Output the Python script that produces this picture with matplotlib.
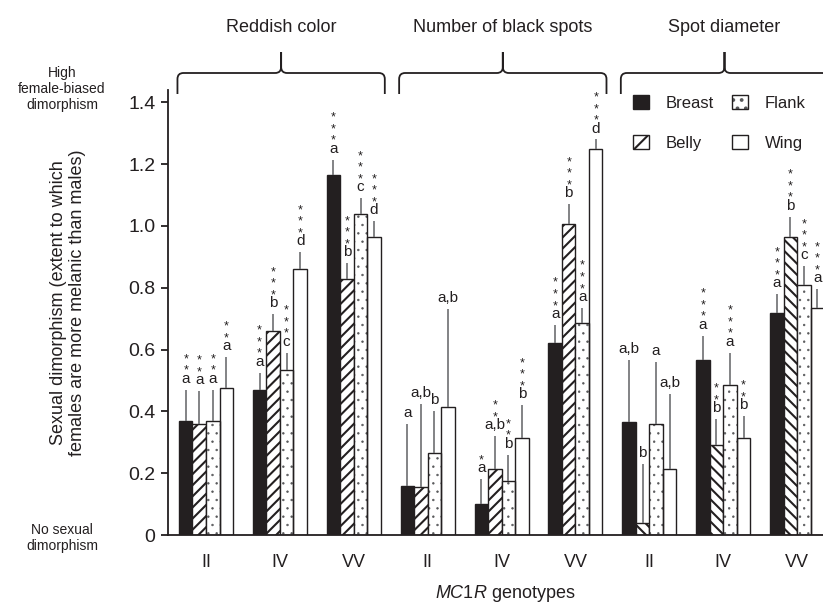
import numpy as np
import matplotlib
matplotlib.use("Agg")
import matplotlib.pyplot as plt
from matplotlib.path import Path
from matplotlib.patches import PathPatch, Patch
from matplotlib.transforms import blended_transform_factory

plt.rcParams["font.family"] = ["Liberation Sans", "DejaVu Sans"]
plt.rcParams["mathtext.fontset"] = "custom"
plt.rcParams["mathtext.it"] = "Liberation Sans:italic"
plt.rcParams["mathtext.rm"] = "Liberation Sans"
plt.rcParams["hatch.linewidth"] = 1.5

# data
traits = ["Reddish color", "Number of black spots", "Spot diameter"]
genotypes = ["II", "IV", "VV"]
regions = ["Breast", "Belly", "Flank", "Wing"]

breast = [0.37, 0.47, 1.165, 0.16, 0.10, 0.62, 0.365, 0.565, 0.72]
belly = [0.36, 0.66, 0.83, 0.155, 0.215, 1.005, 0.04, 0.29, 0.965]
flank = [0.37, 0.535, 1.04, 0.265, 0.175, 0.685, 0.36, 0.485, 0.81]
wing = [0.475, 0.86, 0.965, 0.415, 0.315, 1.25, 0.215, 0.315, 0.735]

breast_se = [0.10, 0.055, 0.05, 0.20, 0.08, 0.06, 0.20, 0.08, 0.06]
belly_se = [0.105, 0.055, 0.05, 0.27, 0.105, 0.065, 0.19, 0.085, 0.065]
flank_se = [0.10, 0.055, 0.05, 0.135, 0.085, 0.05, 0.20, 0.105, 0.06]
wing_se = [0.10, 0.055, 0.05, 0.315, 0.105, 0.03, 0.24, 0.07, 0.06]

breast_letters = ["a", "a", "a", "a", "a", "a", "a,b", "a", "a"]
belly_letters = ["a", "b", "b", "a,b", "a,b", "b", "b", "b", "b"]
flank_letters = ["a", "c", "c", "b", "b", "a", "a", "a", "c"]
wing_letters = ["a", "d", "d", "a,b", "b", "d", "a,b", "b", "a"]

breast_stars = [2, 3, 3, 0, 1, 3, 0, 3, 3]
belly_stars = [2, 3, 3, 0, 2, 3, 0, 2, 3]
flank_stars = [2, 3, 3, 0, 2, 3, 0, 3, 3]
wing_stars = [2, 3, 3, 0, 3, 3, 0, 2, 3]

ink = "#231f20"
err_col = "#6d6e71"
dot_col = "#58595b"


def thin_hatch(artists, lw):
    for a in artists:
        if hasattr(a, "set_hatch_linewidth"):
            a.set_hatch_linewidth(lw)


fig = plt.figure(figsize=(8.23, 6.06), dpi=100)
ax = fig.add_axes([168 / 823, 71 / 606, 1 - 168 / 823, 1.44 * 309 / 606])

x = np.arange(len(breast))
w = 0.183
offs = (np.arange(4) - 1.5) * w

values = [breast, belly, flank, wing]
ses = [breast_se, belly_se, flank_se, wing_se]
letters = [breast_letters, belly_letters, flank_letters, wing_letters]
stars = [breast_stars, belly_stars, flank_stars, wing_stars]

for r in range(4):
    xs = x + offs[r]
    v = np.array(values[r])
    if r == 0:
        ax.bar(xs, v, w, color=ink, edgecolor=ink, lw=1.0, zorder=2)
    elif r == 1:
        # spot diameter bars are hatched the other way
        for i in range(len(v)):
            h = "///" if i < 6 else "\\\\\\"
            ax.bar(xs[i], v[i], w, color="white", edgecolor=ink, hatch=h, lw=1.0, zorder=2)
    elif r == 2:
        dots = ax.bar(xs, v, w, color="white", edgecolor=dot_col, hatch="..", lw=0, zorder=2)
        thin_hatch(dots, 0.5)
        ax.bar(xs, v, w, fill=False, edgecolor=ink, lw=1.0, zorder=3)
    else:
        ax.bar(xs, v, w, color="white", edgecolor=ink, lw=1.0, zorder=2)

    tops = v + np.array(ses[r])
    ax.vlines(xs, v, tops, color=err_col, lw=1.2, zorder=4)

    for i in range(len(v)):
        ax.annotate(letters[r][i], (xs[i], tops[i]), xytext=(0, 5), textcoords="offset points",
                    ha="center", va="baseline", fontsize=11, color=ink, annotation_clip=False)
        if stars[r][i]:
            ax.annotate("\n".join("*" * stars[r][i]), (xs[i], tops[i]), xytext=(0, 12.9 * 0.72),
                        textcoords="offset points", ha="center", va="bottom", fontsize=9,
                        linespacing=0.95, color=ink, annotation_clip=False)

ax.set_xlim(-0.514, 8.35)
ax.set_ylim(0, 1.44)
for s in ["top", "right"]:
    ax.spines[s].set_visible(False)
for s in ["left", "bottom"]:
    ax.spines[s].set_color(ink)
    ax.spines[s].set_linewidth(1.3)

ax.set_yticks(np.arange(0, 1.41, 0.2))
ax.set_yticklabels(["0", "0.2", "0.4", "0.6", "0.8", "1.0", "1.2", "1.4"])
ax.set_xticks(x)
ax.set_xticklabels(genotypes * 3)
ax.tick_params(axis="y", length=5, width=1.3, pad=4, labelsize=14, colors=ink)
ax.tick_params(axis="x", length=0, pad=14, labelsize=13, colors=ink)

# legend
flank_handle = Patch(facecolor="white", edgecolor=dot_col, hatch="..", lw=0)
thin_hatch([flank_handle], 0.5)
handles = [
    Patch(facecolor=ink, edgecolor=ink),
    Patch(facecolor="white", edgecolor=ink, hatch="//"),
    (flank_handle, Patch(fill=False, edgecolor=ink)),
    Patch(facecolor="white", edgecolor=ink),
]
ax.legend(handles, regions, ncol=2, loc="upper left", bbox_to_anchor=(633 / 823, 1 - 95 / 606),
          bbox_transform=fig.transFigure, frameon=False, fontsize=12, borderpad=0,
          borderaxespad=0, handlelength=0.95, handleheight=0.95, handletextpad=1.0,
          columnspacing=1.1, labelspacing=1.45, labelcolor=ink)

# braces above each trait
tr = blended_transform_factory(ax.transData, fig.transFigure)
yb, yh, yt = 1 - 94 / 606, 1 - 73 / 606, 1 - 52 / 606
ry, rx = 6 / 606, 6 / 73.9
for t, name in enumerate(traits):
    x0 = 3 * t - 0.386
    x1 = 3 * t + 2.42
    xm = (x0 + x1) / 2
    verts = [(x0, yb), (x0, yh - ry), (x0, yh), (x0 + rx, yh), (xm - rx, yh), (xm, yh), (xm, yh + ry), (xm, yt),
             (x1, yb), (x1, yh - ry), (x1, yh), (x1 - rx, yh), (xm + rx, yh), (xm, yh), (xm, yh + ry), (xm, yt)]
    codes = [Path.MOVETO, Path.LINETO, Path.CURVE3, Path.CURVE3, Path.LINETO, Path.CURVE3, Path.CURVE3, Path.LINETO] * 2
    ax.add_patch(PathPatch(Path(verts, codes), fill=False, edgecolor=ink, lw=1.3,
                           transform=tr, clip_on=False))
    fig.text(xm, 1 - 27 / 606, name, transform=tr, ha="center", va="center", fontsize=13, color=ink)

fig.text(68 / 823, 1 - 303 / 606,
         "Sexual dimorphism (extent to which\nfemales are more melanic than males)",
         rotation=90, ha="center", va="center", fontsize=13, color=ink, linespacing=1.15)
fig.text(62 / 823, 1 - 89 / 606, "High\nfemale-biased\ndimorphism", ha="center", va="center",
         fontsize=10, color=ink, linespacing=1.15)
fig.text(62 / 823, 1 - 538 / 606, "No sexual\ndimorphism", ha="center", va="center",
         fontsize=10, color=ink, linespacing=1.15)
fig.text(505 / 823, 1 - 593 / 606, r"$\it{MC1R}$ genotypes", ha="center", va="center",
         fontsize=13, color=ink)

fig.savefig("out.png", dpi=100)
